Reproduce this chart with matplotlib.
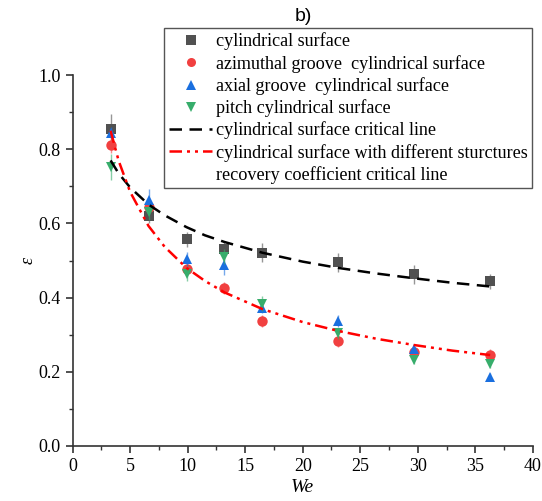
import matplotlib
matplotlib.use("Agg")
import matplotlib.pyplot as plt
from matplotlib.lines import Line2D
from matplotlib.ticker import MultipleLocator

plt.rcParams['font.family'] = ['Liberation Serif', 'DejaVu Serif']

# measured points
we = [3.3, 6.6, 9.9, 13.2, 16.5, 23.1, 29.7, 36.3]
eps_cyl = [0.856, 0.620, 0.557, 0.531, 0.521, 0.495, 0.463, 0.444]
eps_azi = [0.811, 0.645, 0.476, 0.426, 0.337, 0.283, 0.254, 0.245]
eps_axi = [0.845, 0.663, 0.504, 0.487, 0.373, 0.337, 0.260, 0.186]
eps_pit = [0.753, 0.630, 0.464, 0.510, 0.384, 0.304, 0.231, 0.220]

err_cyl = [0.040, 0.020, 0.020, 0.020, 0.025, 0.025, 0.025, 0.020]
err_azi = [0.020, 0.020, 0.015, 0.015, 0.015, 0.015, 0.015, 0.015]
err_axi = [0.015, 0.030, 0.020, 0.027, 0.015, 0.015, 0.010, 0.010]
err_pit = [0.035, 0.020, 0.020, 0.020, 0.020, 0.015, 0.010, 0.010]

# critical lines
we_line = [3.3, 4.0, 5.0, 6.6, 8.0, 9.9, 11.5, 13.2, 16.5, 20.0, 23.1, 26.4, 29.7, 33.0, 36.3]
crit_cyl = [0.770, 0.735, 0.697, 0.651, 0.622, 0.590, 0.568, 0.550, 0.521, 0.497, 0.480, 0.465, 0.452, 0.440, 0.430]
crit_str = [0.850, 0.769, 0.685, 0.593, 0.537, 0.480, 0.445, 0.414, 0.369, 0.334, 0.310, 0.289, 0.272, 0.257, 0.245]

labels = ['cylindrical surface',
          'azimuthal groove  cylindrical surface',
          'axial groove  cylindrical surface',
          'pitch cylindrical surface']
colors = ['#515151', '#F14040', '#1A6FDF', '#37AD6B']
markers = ['s', 'o', '^', 'v']

fig = plt.figure(figsize=(5.42, 5.01), dpi=100)
ax = fig.add_axes([0.134, 0.110, 0.849, 0.740])

series = [eps_cyl, eps_azi, eps_axi, eps_pit]
errs = [err_cyl, err_azi, err_axi, err_pit]
for i in range(4):
    ax.errorbar(we, series[i], yerr=errs[i], fmt=markers[i], color=colors[i],
                ms=7.5, mew=0, ecolor=colors[i], elinewidth=1.0, capsize=4.5,
                capthick=1.0, zorder=3 + i)
# lighter error bars
for c in ax.collections:
    c.set_alpha(0.6)
for ln in ax.lines:
    if ln.get_marker() == '_':
        ln.set_alpha(0.6)

ax.plot(we_line, crit_cyl, color='black', lw=1.8, dashes=(5, 3), zorder=8)
ax.plot(we_line, crit_str, color='red', lw=1.8, dashes=(5, 2, 1.2, 2, 1.2, 2), zorder=8)

ax.set_xlim(0, 40)
ax.set_ylim(0, 1.0)
ax.xaxis.set_major_locator(MultipleLocator(5))
ax.xaxis.set_minor_locator(MultipleLocator(2.5))
ax.yaxis.set_major_locator(MultipleLocator(0.2))
ax.yaxis.set_minor_locator(MultipleLocator(0.1))
ax.yaxis.set_major_formatter(plt.FormatStrFormatter('%.1f'))
ax.spines['top'].set_visible(False)
ax.spines['right'].set_visible(False)
for s in ['left', 'bottom']:
    ax.spines[s].set_linewidth(1.2)
    ax.spines[s].set_color('#333333')
ax.tick_params(which='major', direction='out', length=5, width=1.2, labelsize=13, color='#333333')
ax.tick_params(which='minor', direction='out', length=3, width=1.0, color='#333333')

ax.set_xlabel('We', fontsize=14, style='italic', labelpad=3)
ax.set_ylabel('ε', fontsize=13, style='italic', labelpad=1)
fig.text(0.559, 0.968, 'b)', fontsize=14, family='Liberation Sans', ha='center', va='center')

handles = [Line2D([], [], ls='none', marker=markers[i], color=colors[i], ms=6.5, mew=0)
           for i in range(4)]
handles.append(Line2D([], [], color='black', lw=1.8, dashes=(5, 3)))
handles.append(Line2D([], [], color='red', lw=1.8, dashes=(5, 2, 1.2, 2, 1.2, 2)))
handles.append(Line2D([], [], ls='none', marker=None))
leg_labels = labels + ['cylindrical surface critical line',
                       'cylindrical surface with different sturctures',
                       'recovery coefficient critical line']
leg = fig.legend(handles, leg_labels, loc='upper left', bbox_to_anchor=(0.303, 0.944),
                 bbox_transform=fig.transFigure, fontsize=13.1, frameon=True, fancybox=False,
                 edgecolor='#555555', framealpha=1, handlelength=2.4, handletextpad=0.2,
                 labelspacing=0.24, borderpad=0.25, borderaxespad=0)
leg.get_frame().set_linewidth(1.0)

fig.savefig('out.png', dpi=100)
